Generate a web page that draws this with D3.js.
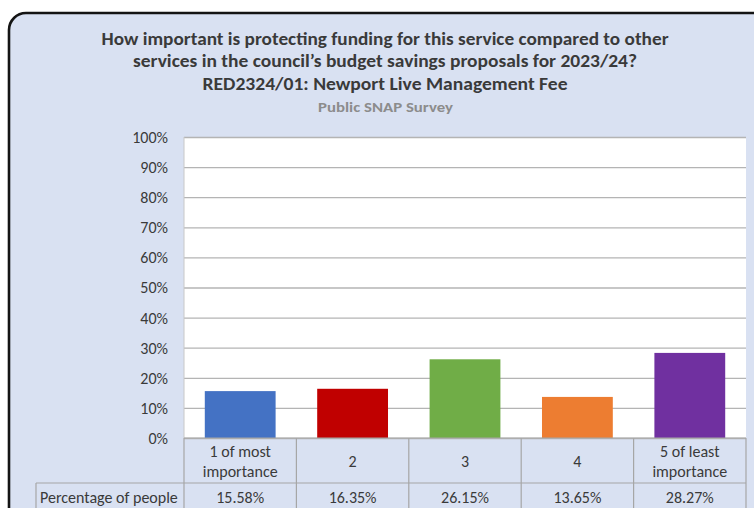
<!DOCTYPE html>
<html>
<head>
<meta charset="utf-8">
<script src="https://cdn.jsdelivr.net/npm/d3@7"></script>
<style>
  html, body { margin: 0; padding: 0; background: #ffffff; }
  svg { display: block; }
  text { font-family: Carlito, Calibri, Lato, "Open Sans", sans-serif; }
</style>
</head>
<body>
<svg id="chart" width="754" height="508"></svg>
<script>
// Survey responses: share of people choosing each importance rating
const categories = ["1 of most importance", "2", "3", "4", "5 of least importance"];
const categoryLines = [["1 of most", "importance"], ["2"], ["3"], ["4"], ["5 of least", "importance"]];
const percentages = [15.58, 16.35, 26.15, 13.65, 28.27];
const barColors = ["#4472C4", "#C00000", "#70AD47", "#ED7D31", "#7030A0"];
const seriesName = "Percentage of people";
const yTicks = [0, 10, 20, 30, 40, 50, 60, 70, 80, 90, 100];
const titleLines = [
  "How important is protecting funding for this service compared to other",
  "services in the council\u2019s budget savings proposals for 2023/24?",
  "RED2324/01:  Newport Live Management Fee"
];
const subtitle = "Public SNAP Survey";

const svg = d3.select("#chart");

// Layout
const plot = { left: 184, right: 746, top: 137, bottom: 438 };
const tableRow1 = 483, tableBottom = 512, labelCellLeft = 36;
const textColor = "#3A3A3A";
const lineColor = "#A6A6A6";
const bodySize = 16;

// Rounded card behind everything
svg.append("rect")
  .attr("x", 9).attr("y", 13)
  .attr("width", 780).attr("height", 520)
  .attr("rx", 17).attr("ry", 17)
  .attr("fill", "#D9E1F2")
  .attr("stroke", "#141414")
  .attr("stroke-width", 2.6);

// Titles
const titleWidths = [567, 504, 365];
const titleBaselines = [44.5, 67, 90];
titleLines.forEach((t, i) => {
  svg.append("text")
    .attr("x", 385).attr("y", titleBaselines[i])
    .attr("text-anchor", "middle")
    .attr("font-size", 17.5)
    .attr("font-weight", "bold")
    .attr("fill", textColor)
    .attr("textLength", titleWidths[i])
    .attr("lengthAdjust", "spacingAndGlyphs")
    .text(t);
});
svg.append("text")
  .attr("x", 385.5).attr("y", 112)
  .attr("text-anchor", "middle")
  .attr("font-size", 14)
  .attr("font-weight", "bold")
  .attr("fill", "#8C8C8C")
  .attr("textLength", 135)
  .attr("lengthAdjust", "spacingAndGlyphs")
  .text(subtitle);

// Scales
const x = d3.scaleBand()
  .domain(categories)
  .range([plot.left, plot.right])
  .paddingInner(0.37)
  .paddingOuter(0.185);
const col = d3.scaleBand()
  .domain(categories)
  .range([plot.left, plot.right])
  .padding(0);
const y = d3.scaleLinear()
  .domain([0, 100])
  .range([plot.bottom, plot.top]);

// Plot area
svg.append("rect")
  .attr("x", plot.left).attr("y", plot.top)
  .attr("width", plot.right - plot.left)
  .attr("height", plot.bottom - plot.top)
  .attr("fill", "#ffffff");

// Gridlines and y axis labels
const yAxis = d3.axisLeft(y)
  .tickValues(yTicks)
  .tickSize(-(plot.right - plot.left))
  .tickPadding(16)
  .tickFormat(d => d + "%");
const gy = svg.append("g")
  .attr("transform", `translate(${plot.left},0)`)
  .call(yAxis);
gy.attr("font-family", null).attr("font-size", null);
gy.select(".domain").remove();
gy.selectAll(".tick line")
  .attr("stroke", "#B4B4B4")
  .attr("stroke-width", 1.3);
gy.selectAll(".tick text")
  .attr("font-size", bodySize)
  .attr("dy", "0.34em")
  .attr("fill", textColor);

// Left edge of plot
svg.append("line")
  .attr("x1", plot.left).attr("x2", plot.left)
  .attr("y1", plot.top).attr("y2", plot.bottom)
  .attr("stroke", "#C8C8C8").attr("stroke-width", 1);

// Bars
svg.append("g")
  .selectAll("rect")
  .data(categories)
  .join("rect")
  .attr("x", d => x(d))
  .attr("width", x.bandwidth())
  .attr("y", (d, i) => y(percentages[i]))
  .attr("height", (d, i) => y(0) - y(percentages[i]))
  .attr("fill", (d, i) => barColors[i]);

// Data table beneath the plot
const tbl = svg.append("g")
  .attr("stroke", lineColor)
  .attr("stroke-width", 1.2)
  .attr("fill", "none");
tbl.append("line")
  .attr("x1", plot.left).attr("x2", plot.right)
  .attr("y1", plot.bottom).attr("y2", plot.bottom);
tbl.append("line")
  .attr("x1", labelCellLeft).attr("x2", plot.right)
  .attr("y1", tableRow1).attr("y2", tableRow1);
tbl.append("line")
  .attr("x1", labelCellLeft).attr("x2", labelCellLeft)
  .attr("y1", tableRow1).attr("y2", tableBottom);
const colEdges = categories.map(c => col(c)).concat([plot.right]);
tbl.selectAll("line.col")
  .data(colEdges)
  .join("line")
  .attr("class", "col")
  .attr("x1", d => d).attr("x2", d => d)
  .attr("y1", plot.bottom).attr("y2", tableBottom);

// Category labels (first table row)
const catG = svg.append("g")
  .attr("font-size", bodySize)
  .attr("fill", textColor)
  .attr("text-anchor", "middle");
categories.forEach((c, i) => {
  const lines = categoryLines[i];
  const cx = col(c) + col.bandwidth() / 2;
  const t = catG.append("text").attr("x", cx);
  if (lines.length === 1) {
    t.attr("y", 466.5).text(lines[0]);
  } else {
    lines.forEach((l, j) => {
      t.append("tspan").attr("x", cx).attr("y", 457 + j * 20).text(l);
    });
  }
});

// Value row
svg.append("text")
  .attr("x", 40).attr("y", 502.5)
  .attr("font-size", bodySize)
  .attr("fill", textColor)
  .text(seriesName);
svg.append("g")
  .attr("font-size", bodySize)
  .attr("fill", textColor)
  .attr("text-anchor", "middle")
  .selectAll("text")
  .data(categories)
  .join("text")
  .attr("x", d => col(d) + col.bandwidth() / 2)
  .attr("y", 502.5)
  .text((d, i) => percentages[i].toFixed(2) + "%");
</script>
</body>
</html>
